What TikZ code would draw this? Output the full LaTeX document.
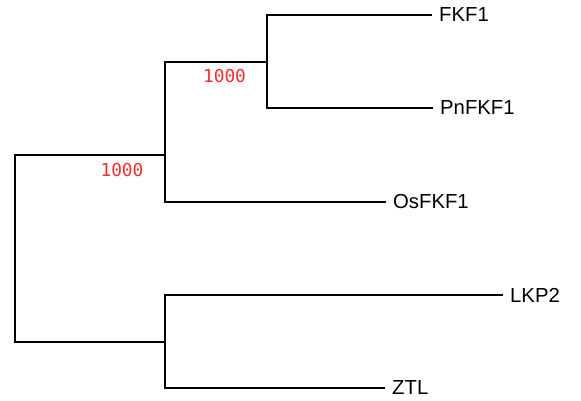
\documentclass[tikz,border=0pt]{standalone}
\usepackage{fontspec}
\usepackage{tikz}
\newfontfamily\tipfont{Liberation Sans}
\newfontfamily\bootfont{DejaVu Sans Mono}
\definecolor{bootred}{RGB}{245,45,45}

\begin{document}
\begin{tikzpicture}[x=1pt, y=-1pt,
    branch/.style={line width=2.4pt},
    tip/.style={anchor=west, inner xsep=7pt, inner ysep=0pt, font=\tipfont\fontsize{20.3}{24}\selectfont},
    support/.style={inner sep=0pt, text=bootred, font=\bootfont\fontsize{17.8}{20}\selectfont}]
    \useasboundingbox (0,0) rectangle (581,401);
    \node[tip] (fkf1) at (432,15) {FKF1};
    \node[tip] (pnfkf1) at (433,108) {PnFKF1};
    \node[tip] (osfkf1) at (386,202) {OsFKF1};
    \node[tip] (lkp2) at (503,295) {LKP2};
    \node[tip] (ztl) at (385,388) {ZTL};
    \coordinate (nB) at (267,62);
    \coordinate (nA) at (165,155);
    \coordinate (nC) at (165,342);
    \coordinate (root) at (15,248);
    \draw[branch] (fkf1) -| (nB) |- (pnfkf1);
    \draw[branch] (nB) -| (nA) |- (osfkf1);
    \draw[branch] (lkp2) -| (nC) |- (ztl);
    \draw[branch] (nA) -| (root) |- (nC);
    \node[support] (bootA) at (224.5,76.5) {1000};
    \node[support] (bootRoot) at (122,170) {1000};
\end{tikzpicture}
\end{document}
